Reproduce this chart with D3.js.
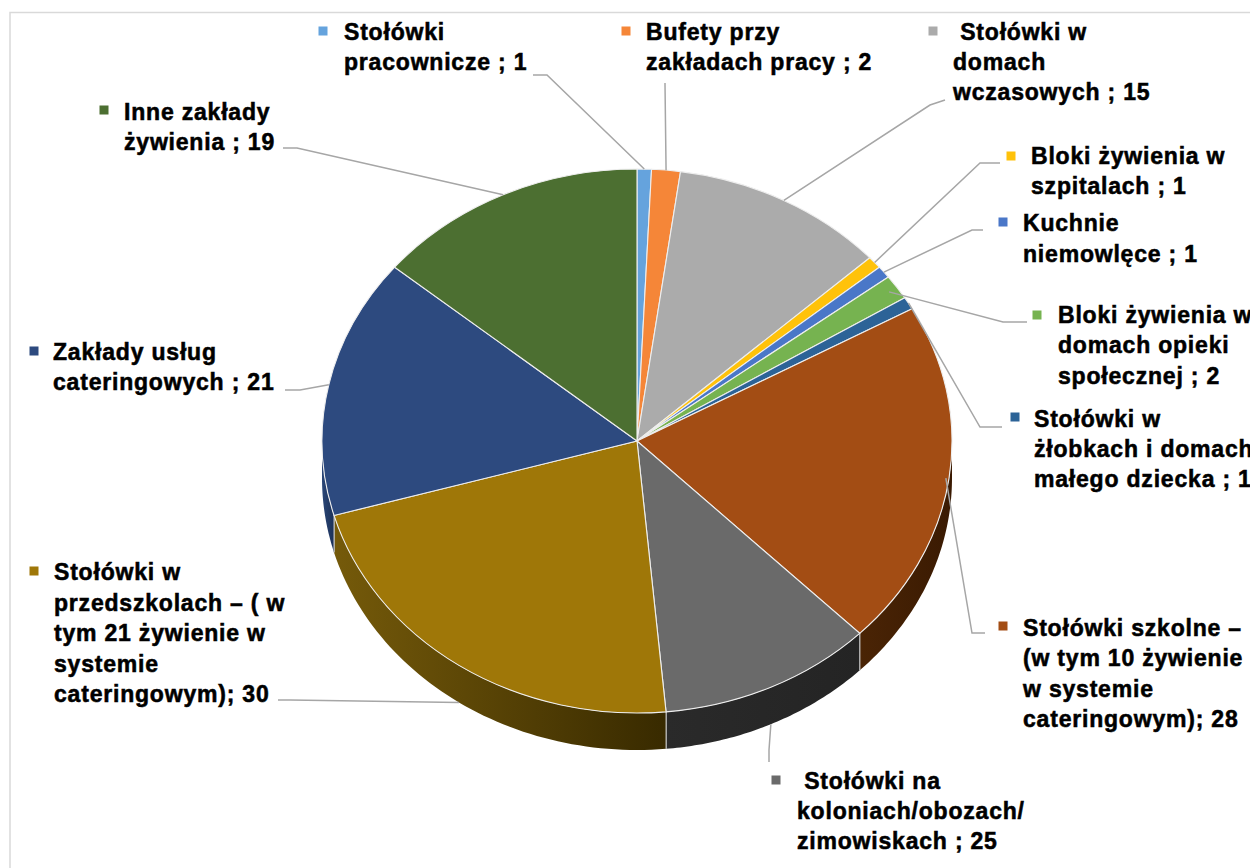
<!DOCTYPE html>
<html lang="pl">
<head>
<meta charset="utf-8">
<script src="https://cdn.jsdelivr.net/npm/d3@7/dist/d3.min.js"></script>
<style>
html,body{margin:0;padding:0;background:#fff;overflow:hidden}
svg{display:block}
text{font-family:"Liberation Sans",Arial,sans-serif;font-weight:700;font-size:23px;letter-spacing:.8px;fill:#000;stroke:#000;stroke-width:.55px;white-space:pre}
</style>
</head>
<body>
<svg id="chart" width="1250" height="868"></svg>
<script>
// Slice sizes as drawn in the picture
const values = [1, 2, 15, 1, 1, 2, 1, 28, 15, 30, 21, 19];
// Label text as printed in the picture
const labels = [
  ["Stołówki", "pracownicze ; 1"],
  ["Bufety przy", "zakładach pracy ; 2"],
  [" Stołówki w", "domach", "wczasowych ; 15"],
  ["Bloki żywienia w", "szpitalach ; 1"],
  ["Kuchnie", "niemowlęce ; 1"],
  ["Bloki żywienia w", "domach opieki", "społecznej ; 2"],
  ["Stołówki w", "żłobkach i domach", "małego dziecka ; 1"],
  ["Stołówki szkolne –", "(w tym 10 żywienie", "w systemie", "cateringowym); 28"],
  [" Stołówki na", "koloniach/obozach/", "zimowiskach ; 25"],
  ["Stołówki w", "przedszkolach – ( w", "tym 21 żywienie w", "systemie", "cateringowym); 30"],
  ["Zakłady usług", "cateringowych ; 21"],
  ["Inne zakłady", "żywienia ; 19"]
];
const colors = ["#65a3dd","#f58638","#ababab","#ffc20a","#4a77c8","#76b350","#2c6397","#a34d14","#6a6a6a","#9f7708","#2d4a7f","#4c6f31"];
const rimLeft  = ["#3d6285","#935022","#676767","#997400","#2c4a80","#476b30","#1a4066","#4a2405","#2a2a2a","#755a0a","#2a4677","#2e431e"];
const rimRight = ["#3d6285","#935022","#676767","#997400","#2c4a80","#476b30","#1a4066","#3a1a02","#242424","#382a00","#1c3158","#2e431e"];

// Layout of the labels and leaders (separate from the data)
const labelLayout = [
  {mx:323,my:31,tx:344,y:[40,70]},
  {mx:626,my:31,tx:646,y:[40,70]},
  {mx:933,my:31,tx:953,y:[40,70,100]},
  {mx:1011,my:156,tx:1031,y:[164,194]},
  {mx:1003,my:222,tx:1023,y:[231,262]},
  {mx:1037,my:315,tx:1058,y:[323,353,384]},
  {mx:1015,my:417,tx:1034,y:[427,457,487]},
  {mx:1003,my:626,tx:1023,y:[636,666,697,727]},
  {mx:776,my:780,tx:797,y:[789,819,849]},
  {mx:34,my:571,tx:54,y:[580,611,641,672,702]},
  {mx:34,my:351,tx:53,y:[360,390]},
  {mx:104,my:110,tx:124,y:[120,150]}
];
const leaders = [
  [[533,75],[547,75]],
  [[665,83],[665,84]],
  [[945,100],[930,105]],
  [[1000,163],[980,163]],
  [[983,230],[972,230]],
  [[1027,322],[1003,322]],
  [[1002,427],[980,427]],
  [[985,633],[972,633]],
  [[769,762],[769,750]],
  [[278,700],[290,700]],
  [[285,390],[300,390]],
  [[283,148],[297,148]]
];
// Where each leader meets the pie: radial fraction of the ellipse, and whether it lands on the rim
const leaderReach = [1,1,1,1,1,.97,1,.99,1,1,1,1];
const leaderOnRim = [0,0,0,0,0,0,0,0,1,1,0,0];

const cx = 637, cy = 441, rx = 315, ry = 272, depth = 37;
const svg = d3.select("#chart");
const defs = svg.append("defs");

// Frame lines
svg.append("path").attr("d", "M10,868V12.5H1250").attr("fill","none").attr("stroke","#d9d9d9").attr("stroke-width",1.5);

const arcs = d3.pie().sort(null).value(d => d)(values);
const scaleY = ry / rx;
const pt = (a, f = 1, dy = 0) => [cx + rx * f * Math.sin(a), cy - ry * f * Math.cos(a) + dy];

// Rim (front half only)
const rim = svg.append("g");
arcs.forEach((d, i) => {
  const a0 = Math.max(d.startAngle, Math.PI / 2), a1 = Math.min(d.endAngle, 1.5 * Math.PI);
  if (a1 <= a0) return;
  const samples = d3.range(0, 61).map(k => a0 + (a1 - a0) * k / 60);
  const outline = samples.map(a => pt(a)).concat(samples.slice().reverse().map(a => pt(a, 1, depth)));
  const xs = outline.map(p => p[0]);
  const id = "rim" + i;
  const g = defs.append("linearGradient").attr("id", id).attr("gradientUnits", "userSpaceOnUse")
    .attr("x1", d3.min(xs)).attr("x2", d3.max(xs)).attr("y1", 0).attr("y2", 0);
  g.append("stop").attr("offset", 0).attr("stop-color", rimLeft[i]);
  g.append("stop").attr("offset", 1).attr("stop-color", rimRight[i]);
  rim.append("path").attr("d", d3.line()(outline) + "Z").attr("fill", `url(#${id})`);
  [a0, a1].forEach(a => {
    if (a > Math.PI / 2 + .01 && a < 1.5 * Math.PI - .01) {
      const p = pt(a), q = pt(a, 1, depth);
      rim.append("line").attr("x1", p[0]).attr("y1", p[1]).attr("x2", q[0]).attr("y2", q[1])
        .attr("stroke", "#c9c9c9").attr("stroke-width", 1);
    }
  });
});

// Top face
const arcGen = d3.arc().innerRadius(0).outerRadius(rx);
svg.append("g").attr("transform", `translate(${cx},${cy}) scale(1,${scaleY})`)
  .selectAll("path").data(arcs).join("path")
  .attr("d", arcGen)
  .attr("fill", (d, i) => colors[i])
  .attr("stroke", "#eeeeee").attr("stroke-width", 1.1)
  .attr("vector-effect", "non-scaling-stroke");

// Leaders
const leaderLine = d3.line();
svg.append("g").selectAll("path").data(arcs).join("path")
  .attr("d", (d, i) => {
    const mid = (d.startAngle + d.endAngle) / 2;
    return leaderLine([...leaders[i], pt(mid, leaderReach[i], leaderOnRim[i] * depth)]);
  })
  .attr("fill", "none").attr("stroke", "#a6a6a6").attr("stroke-width", 1.5);

// Labels
const lg = svg.append("g").selectAll("g").data(labels).join("g");
lg.append("rect")
  .attr("x", (d, i) => labelLayout[i].mx - 4.5)
  .attr("y", (d, i) => labelLayout[i].my - 4.5)
  .attr("width", 9).attr("height", 9)
  .attr("fill", (d, i) => colors[i]);
lg.each(function (lines, i) {
  const L = labelLayout[i];
  d3.select(this).selectAll("text").data(lines).join("text")
    .attr("x", L.tx).attr("y", (t, k) => L.y[k]).text(t => t);
});
</script>
</body>
</html>
